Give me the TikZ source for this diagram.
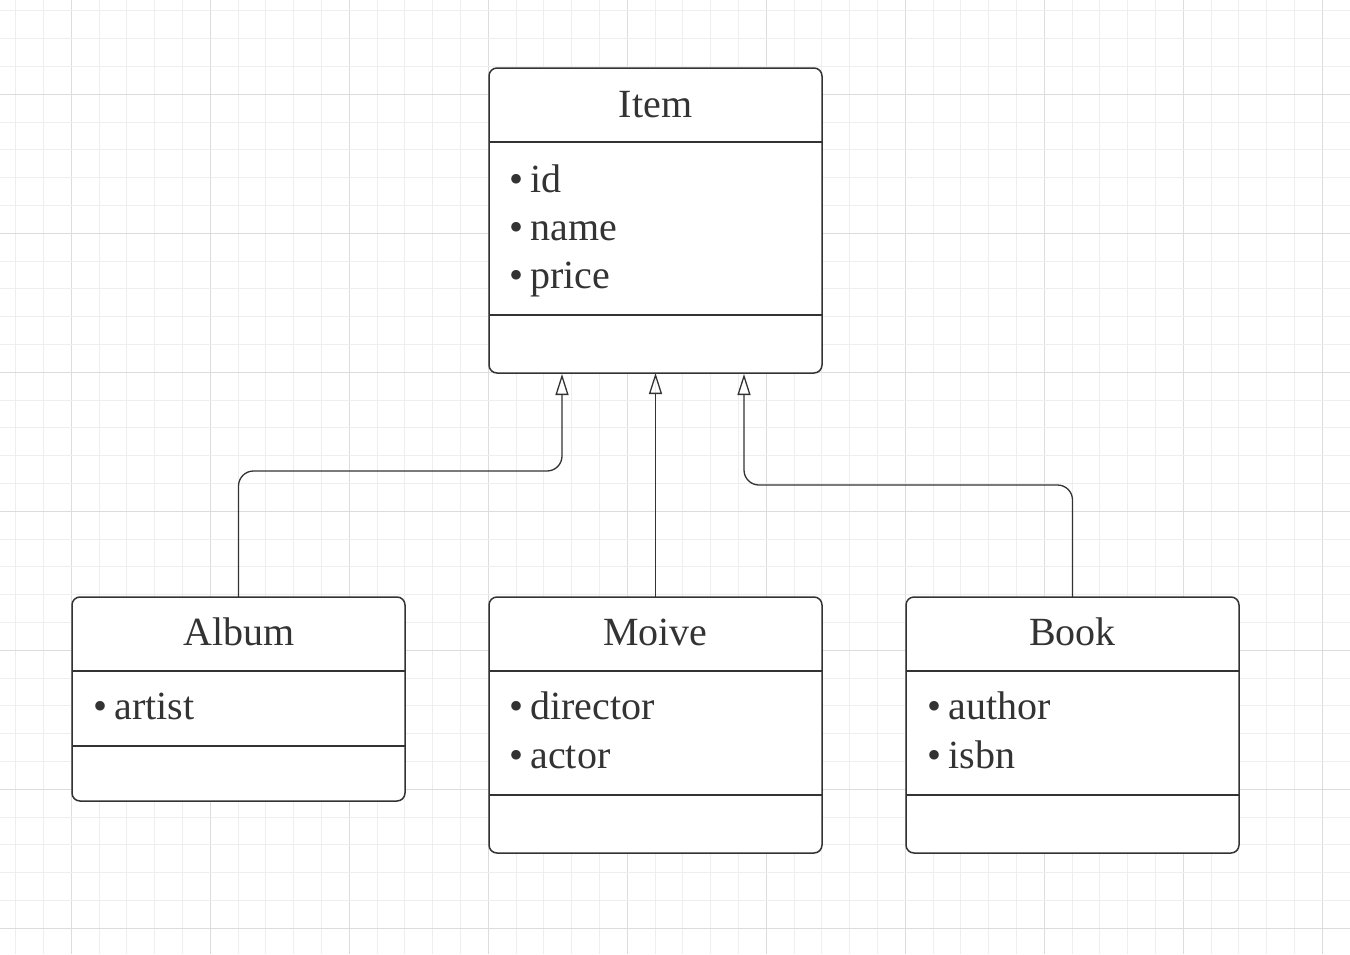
\documentclass[tikz,border=0pt]{standalone}
\usepackage{fontspec}
\setmainfont{Liberation Serif}
\usetikzlibrary{arrows.meta}
\definecolor{ink}{HTML}{333333}
\definecolor{gridminor}{HTML}{EEEEEE}
\definecolor{gridmajor}{HTML}{DCDCDC}
\tikzset{
  classbox/.style={draw=ink, line width=1.5pt, rounded corners=8pt, fill=white,
    anchor=north west, minimum width=333pt, inner sep=0pt, outer sep=0pt},
  sepline/.style={draw=ink, line width=1.5pt},
  title/.style={text=ink, font=\fontsize{40}{48}\selectfont, anchor=base, inner sep=0pt},
  attr/.style={text=ink, font=\fontsize{40}{48}\selectfont, anchor=base west, inner sep=0pt},
  inherit/.style={draw=ink, line width=1.3pt, rounded corners=15pt,
    -{Triangle[open, length=21pt, width=13pt, line width=1.3pt]}},
}
\newcommand{\bul}{•\hspace{0.18em}}
\begin{document}
\begin{tikzpicture}[x=1pt, y=-1pt]
\useasboundingbox (0,0) rectangle (1350,954);
\fill[white] (0,0) rectangle (1350,954);
% grid
\foreach \k in {-2,...,46} {
  \pgfmathsetmacro{\xx}{71.3+\k*27.8}
  \pgfmathtruncatemacro{\mm}{mod(\k+10,5)}
  \ifnum\mm=0
    \draw[gridmajor, line width=1pt] (\xx,0) -- (\xx,954);
  \else
    \draw[gridminor, line width=1pt] (\xx,0) -- (\xx,954);
  \fi
}
\foreach \k in {-3,...,31} {
  \pgfmathsetmacro{\yy}{94.3+\k*27.8}
  \pgfmathtruncatemacro{\mm}{mod(\k+10,5)}
  \ifnum\mm=0
    \draw[gridmajor, line width=1pt] (0,\yy) -- (1350,\yy);
  \else
    \draw[gridminor, line width=1pt] (0,\yy) -- (1350,\yy);
  \fi
}

% Item
\node[classbox, minimum height=305pt] (item) at (489,68) {};
\draw[sepline] (489,142) -- (822,142);
\draw[sepline] (489,315) -- (822,315);
\node[title] (itemT) at (655.5,117) {Item};
\node[attr] (itemA1) at (509,192) {\bul id};
\node[attr] (itemA2) at (509,240) {\bul name};
\node[attr] (itemA3) at (509,288) {\bul price};

% Album
\node[classbox, minimum height=204pt] (album) at (72,597) {};
\draw[sepline] (72,671) -- (405,671);
\draw[sepline] (72,746) -- (405,746);
\node[title] (albumT) at (239,645) {Album};
\node[attr] (albumA1) at (93,719) {\bul artist};

% Moive
\node[classbox, minimum height=256pt] (moive) at (489,597) {};
\draw[sepline] (489,671) -- (822,671);
\draw[sepline] (489,795) -- (822,795);
\node[title] (moiveT) at (655.5,645) {Moive};
\node[attr] (moiveA1) at (509,719) {\bul director};
\node[attr] (moiveA2) at (509,768) {\bul actor};

% Book
\node[classbox, minimum height=256pt] (book) at (906,597) {};
\draw[sepline] (906,671) -- (1239,671);
\draw[sepline] (906,795) -- (1239,795);
\node[title] (bookT) at (1072.5,645) {Book};
\node[attr] (bookA1) at (927,719) {\bul author};
\node[attr] (bookA2) at (927,768) {\bul isbn};

% connectors
\coordinate (t1) at (562,374);
\coordinate (t3) at (744,374);
\draw[inherit] (album.north) |- (562,471) -- (t1);
\draw[inherit] (moive.north) -- (item.south);
\draw[inherit] (book.north) |- (744,485) -- (t3);
\end{tikzpicture}
\end{document}
